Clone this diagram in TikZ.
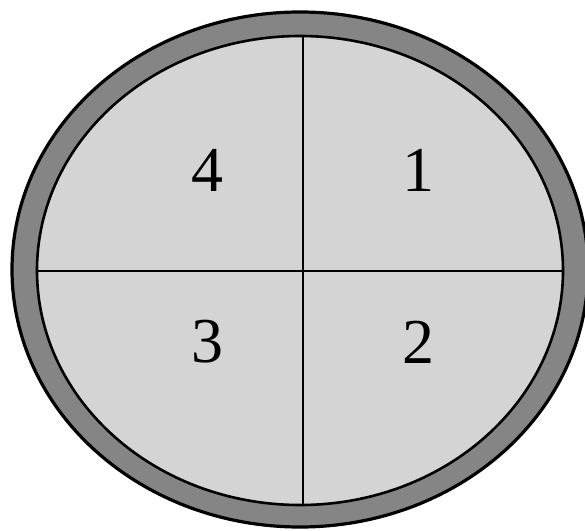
\documentclass[tikz,border=0pt]{standalone}
\usepackage{fontspec}
\setmainfont{Liberation Serif}
\begin{document}
\begin{tikzpicture}[x=1pt,y=-1pt,
  ring/.style={draw=black,line width=3.2pt,fill=black!48},
  field/.style={draw=black,line width=2.6pt,fill=black!17},
  divider/.style={draw=black,line width=2.1pt},
  num/.style={font=\fontsize{64}{64}\selectfont,inner sep=0pt}]
\useasboundingbox (0,0) rectangle (585,530);
\fill[white] (0,0) rectangle (585,530);
\path[ring] (300,269.5) ellipse [x radius=288,y radius=257.5];
\path[field] (300,270.5) ellipse [x radius=263,y radius=234.5];
\coordinate (top) at (303,36);
\coordinate (bot) at (303,505);
\coordinate (lft) at (37,271);
\coordinate (rgt) at (563,271);
\draw[divider] (top) -- (bot);
\draw[divider] (lft) -- (rgt);
\node[num] (n4) at (207,170) {4};
\node[num] (n1) at (418,170) {1};
\node[num] (n3) at (207,342) {3};
\node[num] (n2) at (418,342) {2};
\end{tikzpicture}
\end{document}
